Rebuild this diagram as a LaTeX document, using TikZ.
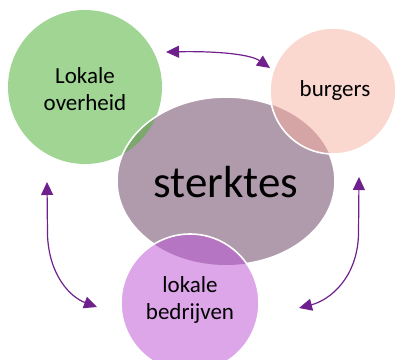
\documentclass[tikz,border=0pt]{standalone}
\usepackage{fontspec}
\setmainfont{Carlito}
\usetikzlibrary{shapes.geometric,arrows.meta}
\definecolor{cgreen}{RGB}{160,213,148}
\definecolor{cgreendk}{RGB}{124,168,110}
\definecolor{cmauve}{RGB}{176,155,173}
\definecolor{cpink}{RGB}{251,216,207}
\definecolor{cpinkdk}{RGB}{213,165,165}
\definecolor{clav}{RGB}{220,166,232}
\definecolor{clavdk}{RGB}{181,117,194}
\definecolor{carrow}{RGB}{112,32,140}
\tikzset{
  lbl/.style={align=center, text=black, font=\fontsize{23}{27}\selectfont},
  conn/.style={draw=carrow, line width=1.2pt, {Triangle[length=13pt,width=12pt]}-{Triangle[length=13pt,width=12pt]}},
  rim/.style={draw=white, line width=1.6pt}
}
\begin{document}
\begin{tikzpicture}[x=1pt,y=-1pt]
\useasboundingbox (0,0) rectangle (396,359);
% shapes
\def\green{(85,87) circle[radius=77]}
\def\ell{(226,181) ellipse[x radius=109, y radius=84]}
\def\pink{(333,91) circle[radius=63]}
\def\lav{(190,303) circle[radius=69]}
\fill[cgreen] \green;
\fill[cmauve] \ell;
\begin{scope}
  \clip \green;
  \fill[cgreendk] \ell;
\end{scope}
\draw[rim] \ell;
\fill[cpink] \pink;
\begin{scope}
  \clip \ell;
  \fill[cpinkdk] \pink;
\end{scope}
\draw[rim] \pink;
\fill[clav] \lav;
\begin{scope}
  \clip \ell;
  \fill[clavdk] \lav;
\end{scope}
\draw[rim] \lav;
% labels
\node[lbl] (lo) at (85,89) {Lokale\\overheid};
\node[lbl] (bu) at (335,90) {burgers};
\node[lbl, font=\fontsize{45}{52}\selectfont] (st) at (226,182) {sterktes};
\node[lbl] (lb) at (190,300) {lokale\\bedrijven};
% arrow endpoints
\coordinate (a1) at (166,52);
\coordinate (a2) at (270,68);
\coordinate (b1) at (47,182);
\coordinate (b2) at (97,307);
\coordinate (c1) at (359,177);
\coordinate (c2) at (299,308);
\draw[conn] (a1) .. controls (215,51) and (250,54) .. (a2);
\draw[conn] (b1) -- (47.5,235) .. controls (49,275) and (70,297) .. (b2);
\draw[conn] (c1) -- (358.5,235) .. controls (357,278) and (330,300) .. (c2);
\end{tikzpicture}
\end{document}
